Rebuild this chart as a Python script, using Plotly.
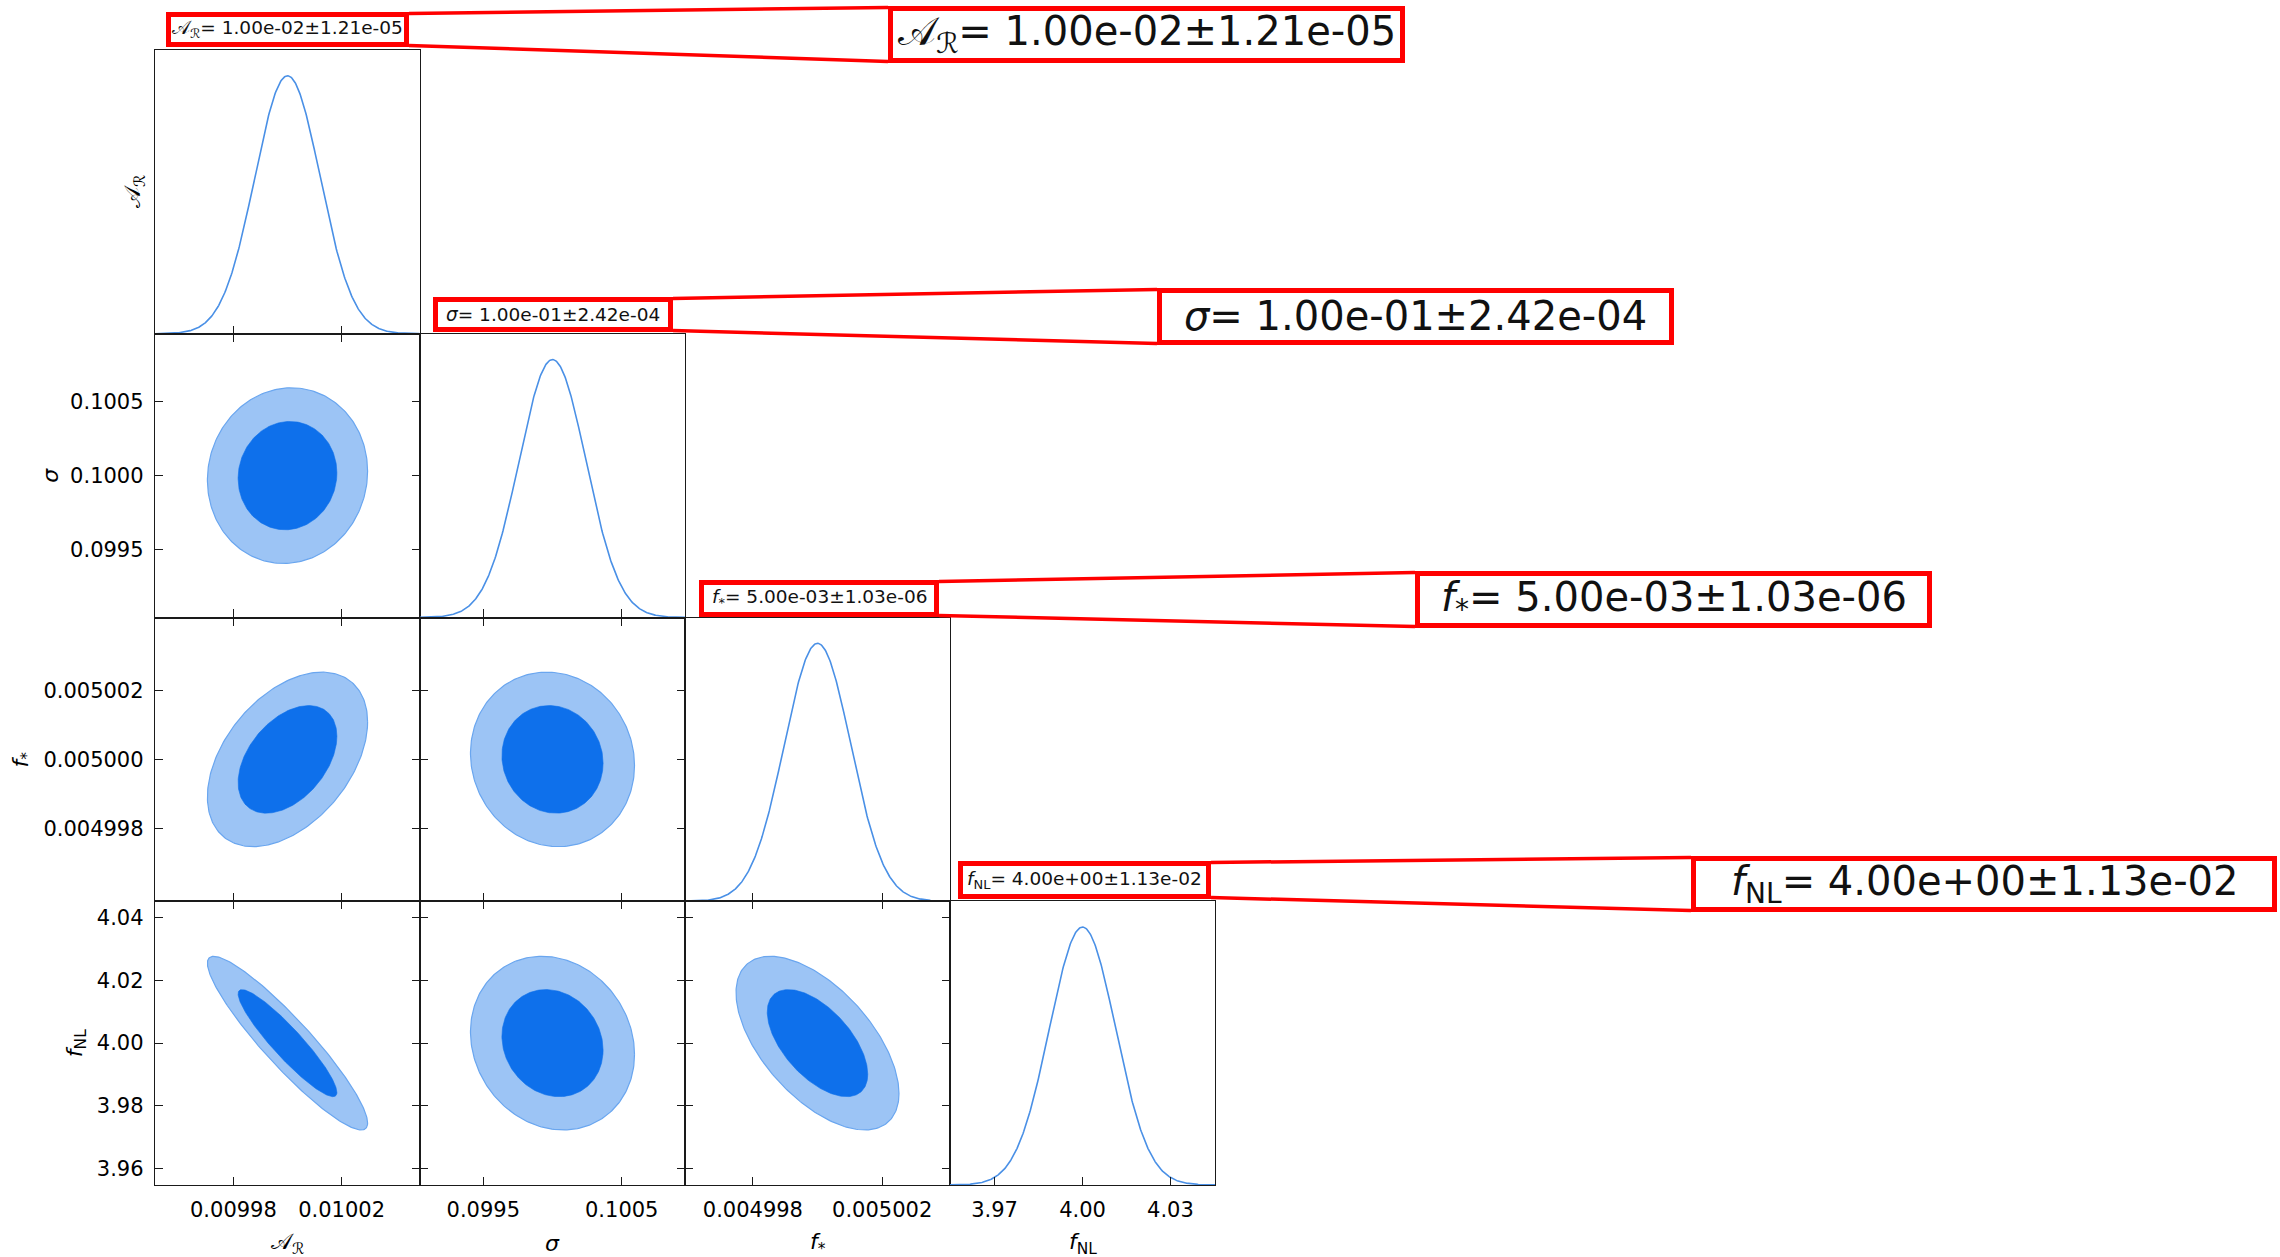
import numpy as np
import plotly.graph_objects as go

W, H = 2280, 1257

# ---------------- data ----------------
param_labels = ["𝒜<sub>ℛ</sub>", "<i>σ</i>", "<i>f</i><sub>*</sub>", "<i>f</i><sub>NL</sub>"]
means = [1.00e-02, 1.00e-01, 5.00e-03, 4.00e+00]
sigmas = [1.21e-05, 2.42e-04, 1.03e-06, 1.13e-02]
mean_text = ["1.00e-02", "1.00e-01", "5.00e-03", "4.00e+00"]
sigma_text = ["1.21e-05", "2.42e-04", "1.03e-06", "1.13e-02"]
# pairwise correlation coefficients (row parameter, column parameter)
corr_pairs = {(1, 0): 0.05, (2, 0): 0.43, (3, 0): -0.92,
              (2, 1): -0.07, (3, 1): -0.13, (3, 2): -0.58}
contour_levels = [0.95, 0.68]
axis_ranges = [[0.009951, 0.010049], [0.099043, 0.100957],
               [0.0049959, 0.0050041], [3.9548, 4.0452]]
x_tick_vals = [[0.00998, 0.01002], [0.0995, 0.1005], [0.004998, 0.005002], [3.97, 4.00, 4.03]]
x_tick_text = [["0.00998", "0.01002"], ["0.0995", "0.1005"], ["0.004998", "0.005002"], ["3.97", "4.00", "4.03"]]
y_tick_vals = [[], [0.0995, 0.1000, 0.1005], [0.004998, 0.005000, 0.005002], [3.96, 3.98, 4.00, 4.02, 4.04]]
y_tick_text = [[], ["0.0995", "0.1000", "0.1005"], ["0.004998", "0.005000", "0.005002"],
               ["3.96", "3.98", "4.00", "4.02", "4.04"]]

# ---------------- layout geometry / style ----------------
X = [155, 420, 685, 950, 1215]
Y = [50, 333.75, 617.5, 901.25, 1185]
FONT = "DejaVu Sans"
C_LINE = "#4a90e6"
C_OUT = "#9cc4f5"
C_OUT_EDGE = "#6aa6ef"
C_IN = "#0e70eb"
RED = "#ff0000"
FRAME = "#1a1a1a"

fig = go.Figure()
layout = dict(width=W, height=H, margin=dict(l=0, r=0, t=0, b=0),
              paper_bgcolor="white", plot_bgcolor="white", showlegend=False,
              font=dict(family=FONT, size=21, color="black"))
shapes, annotations = [], []

n = len(means)
k = 0
for r in range(n):
    for c in range(r + 1):
        k += 1
        xa = "xaxis" if k == 1 else f"xaxis{k}"
        ya = "yaxis" if k == 1 else f"yaxis{k}"
        xr = "x" if k == 1 else f"x{k}"
        yr = "y" if k == 1 else f"y{k}"
        diag = (r == c)
        layout[xa] = dict(domain=[X[c] / W, X[c + 1] / W], anchor=yr,
                          range=axis_ranges[c], showgrid=False, zeroline=False,
                          showline=True, linecolor=FRAME, linewidth=1.4,
                          mirror=True if diag else "ticks",
                          ticks="inside", ticklen=8, tickwidth=1.3, tickcolor=FRAME,
                          tickvals=x_tick_vals[c], ticktext=x_tick_text[c],
                          showticklabels=(r == n - 1), tickfont=dict(size=21, family=FONT),
                          ticklabelstandoff=6)
        if diag:
            layout[ya] = dict(domain=[1 - Y[r + 1] / H, 1 - Y[r] / H], anchor=xr,
                              range=[0, 1.1], showgrid=False, zeroline=False,
                              showline=True, linecolor=FRAME, linewidth=1.4, mirror=True,
                              ticks="", showticklabels=False)
            m, s = means[c], sigmas[c]
            xs = np.linspace(axis_ranges[c][0], axis_ranges[c][1], 400)
            ys = np.exp(-0.5 * ((xs - m) / s) ** 2)
            fig.add_trace(go.Scatter(x=xs, y=ys, mode="lines", xaxis=xr, yaxis=yr,
                                     line=dict(color=C_LINE, width=1.6), hoverinfo="skip"))
        else:
            layout[ya] = dict(domain=[1 - Y[r + 1] / H, 1 - Y[r] / H], anchor=xr,
                              range=axis_ranges[r], showgrid=False, zeroline=False,
                              showline=True, linecolor=FRAME, linewidth=1.4, mirror="ticks",
                              ticks="inside", ticklen=8, tickwidth=1.3, tickcolor=FRAME,
                              tickvals=y_tick_vals[r], ticktext=y_tick_text[r],
                              showticklabels=(c == 0), tickfont=dict(size=21, family=FONT),
                              ticklabelstandoff=6)
            rho = corr_pairs[(r, c)]
            sx, sy = sigmas[c], sigmas[r]
            cov = np.array([[sx * sx, rho * sx * sy], [rho * sx * sy, sy * sy]])
            L = np.linalg.cholesky(cov)
            t = np.linspace(0, 2 * np.pi, 240)
            circ = np.vstack([np.cos(t), np.sin(t)])
            for lev in contour_levels:
                rad = np.sqrt(-2 * np.log(1 - lev))
                pts = (L @ circ) * rad
                outer = lev == max(contour_levels)
                fig.add_trace(go.Scatter(x=means[c] + pts[0], y=means[r] + pts[1],
                                         mode="lines", fill="toself", xaxis=xr, yaxis=yr,
                                         fillcolor=C_OUT if outer else C_IN,
                                         line=dict(color=C_OUT_EDGE if outer else C_IN,
                                                   width=1.2 if outer else 0.6),
                                         hoverinfo="skip"))

# axis titles
xlab_y = 1243
for c in range(n):
    annotations.append(dict(x=(X[c] + X[c + 1]) / 2 / W, y=1 - xlab_y / H, xref="paper", yref="paper",
                            text=param_labels[c], showarrow=False, font=dict(size=22, family=FONT),
                            xanchor="center", yanchor="middle"))
ylab_x = [135, 51, 22, 76]
for r in range(n):
    annotations.append(dict(x=ylab_x[r] / W, y=1 - (Y[r] + Y[r + 1]) / 2 / H, xref="paper", yref="paper",
                            text=param_labels[r], showarrow=False, textangle=-90,
                            font=dict(size=22, family=FONT), xanchor="center", yanchor="middle"))

# red highlight boxes with zoomed copies
small_boxes = [(166, 12, 409, 47), (433, 297, 673, 332), (699, 580, 939, 617), (958, 861, 1211, 899)]
big_boxes = [(888, 6, 1405, 63), (1157, 288, 1674, 345), (1415, 571, 1932, 628), (1691, 856, 2277, 912)]


def px(x):
    return x / W


def py(y):
    return 1 - y / H


for i in range(n):
    title = f"{param_labels[i]}= {mean_text[i]}±{sigma_text[i]}"
    for (x0, y0, x1, y1), fs in ((small_boxes[i], 18.5), (big_boxes[i], 40)):
        shapes.append(dict(type="rect", xref="paper", yref="paper",
                           x0=px(x0 + 2.5), x1=px(x1 - 2.5), y0=py(y0 + 2.5), y1=py(y1 - 2.5),
                           line=dict(color=RED, width=5), fillcolor="rgba(0,0,0,0)"))
        annotations.append(dict(x=px((x0 + x1) / 2), y=py((y0 + y1) / 2), xref="paper", yref="paper",
                                text=title, showarrow=False, font=dict(size=fs, family=FONT, color="#111"),
                                xanchor="center", yanchor="middle"))
    sx0, sy0, sx1, sy1 = small_boxes[i]
    bx0, by0, bx1, by1 = big_boxes[i]
    shapes.append(dict(type="line", xref="paper", yref="paper", x0=px(sx1), y0=py(sy0 + 1.5),
                       x1=px(bx0), y1=py(by0 + 1.5), line=dict(color=RED, width=3.5)))
    shapes.append(dict(type="line", xref="paper", yref="paper", x0=px(sx1), y0=py(sy1 - 1.5),
                       x1=px(bx0), y1=py(by1 - 1.5), line=dict(color=RED, width=3.5)))

layout["shapes"] = shapes
layout["annotations"] = annotations
fig.update_layout(**layout)
fig.write_html("out.html")
